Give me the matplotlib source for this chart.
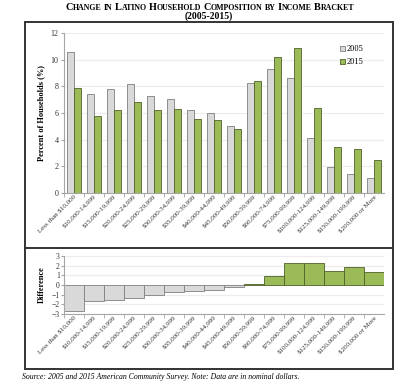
import numpy as np
import matplotlib
matplotlib.use('Agg')
import matplotlib.pyplot as plt
from matplotlib.patches import Rectangle
from matplotlib.lines import Line2D

plt.rcParams['font.family'] = ['Liberation Serif', 'DejaVu Serif']
plt.rcParams['text.parse_math'] = False

brackets = ['Less than $10,000', '$10,000-14,999', '$15,000-19,999', '$20,000-24,999',
            '$25,000-29,999', '$30,000-34,999', '$35,000-39,999', '$40,000-44,999',
            '$45,000-49,999', '$50,000-59,999', '$60,000-74,999', '$75,000-99,999',
            '$100,000-124,999', '$125,000-149,999', '$150,000-199,999', '$200,000 or More']
pct_2005 = [10.6, 7.45, 7.8, 8.15, 7.25, 7.05, 6.2, 6.0, 5.05, 8.25, 9.3, 8.6, 4.1, 1.95, 1.45, 1.1]
pct_2015 = [7.9, 5.78, 6.23, 6.8, 6.2, 6.33, 5.53, 5.48, 4.83, 8.4, 10.2, 10.9, 6.4, 3.43, 3.33, 2.48]

title = 'Change in Latino Household Composition by Income Bracket'

grey = '#d9d9d9'
grey_edge = '#7f7f7f'
green = '#9bbb59'
green_edge = '#4f6228'

x = np.arange(len(brackets))
diff = np.array(pct_2015) - np.array(pct_2005)

fig = plt.figure(figsize=(4.08, 3.86), dpi=100)
renderer = fig.canvas.get_renderer()

# outer frame and divider
fig.patches.append(Rectangle((25/408, 1-369/386), 368/408, 347/386, transform=fig.transFigure,
                             fill=False, lw=1.4, ec='#333333'))
fig.lines.append(Line2D([25/408, 393/408], [1-248/386, 1-248/386], transform=fig.transFigure,
                        lw=1.4, color='#333333'))


def small_caps_title(s, y, cx=210, big=7.4, small=5.7, gap=2.2):
    # fake small caps: one text per piece, laid out side by side
    pieces = []
    for word in s.split():
        if word[0].isupper():
            pieces.append((word[0], big, 0))
            pieces.append((word[1:].upper(), small, gap))
        else:
            pieces.append((word.upper(), small, gap))
    texts = []
    total = 0
    for txt, size, g in pieces:
        t = fig.text(0, y, txt, fontsize=size, fontweight='bold', ha='left', va='baseline')
        wpx = t.get_window_extent(renderer).width
        texts.append((t, wpx, g))
        total += wpx + g
    total -= pieces[-1][2]
    cur = cx - total / 2
    for t, wpx, g in texts:
        t.set_x(cur / 408)
        cur += wpx + g


small_caps_title(title, 1-10/386)
fig.text(209/408, 1-16.5/386, '(2005-2015)', ha='center', va='center', fontsize=7, fontweight='bold')
fig.text(22/408, 1-377/386,
         'Source: 2005 and 2015 American Community Survey. Note: Data are in nominal dollars.',
         ha='left', va='center', fontsize=5.6, style='italic')


def style_axis(ax):
    for s in ['top', 'right']:
        ax.spines[s].set_visible(False)
    for s in ['left', 'bottom']:
        ax.spines[s].set_color('#a6a6a6')
        ax.spines[s].set_linewidth(0.8)
    ax.tick_params(axis='y', length=2, color='#a6a6a6', labelsize=5.8, pad=2, labelcolor='#333333')
    ax.tick_params(axis='x', which='major', length=0, labelsize=5, pad=1, labelcolor='#333333')
    ax.tick_params(axis='x', which='minor', length=3, color='#a6a6a6', direction='out')
    ax.set_xticks(x - 0.5, minor=True)
    ax.set_xticks(x)
    ax.set_xticklabels(brackets, rotation=45, ha='right', va='top', rotation_mode='anchor')
    ax.set_xlim(-0.5, len(brackets) - 0.5)
    ax.yaxis.grid(True, color='#ececec', lw=0.8)
    ax.set_axisbelow(True)


# top panel
ax1 = fig.add_axes([64/408, 1-193/386, 320/408, 160/386])
w = 0.36
ax1.bar(x - w/2, pct_2005, w, color=grey, edgecolor=grey_edge, lw=0.6, label='2005')
ax1.bar(x + w/2, pct_2015, w, color=green, edgecolor=green_edge, lw=0.6, label='2015')
ax1.set_ylim(0, 12)
ax1.set_yticks(range(0, 13, 2))
style_axis(ax1)
ax1.set_ylabel('Percent of Households (%)', fontsize=6, fontweight='bold', labelpad=4)
leg = ax1.legend(loc='upper right', bbox_to_anchor=(0.96, 0.97), frameon=False, fontsize=6,
                 handlelength=0.6, handleheight=0.6, handletextpad=0.2, labelspacing=0.6)

# bottom panel
ax2 = fig.add_axes([64/408, 1-314/386, 320/408, 58/386])
ax2.bar(x, diff, 1.0, color=[grey if d < 0 else green for d in diff],
        edgecolor=[grey_edge if d < 0 else green_edge for d in diff], lw=0.6)
ax2.set_ylim(-3, 3)
ax2.set_yticks(range(-3, 4))
style_axis(ax2)
ax2.tick_params(axis='y', labelsize=5.5, pad=1)
ax2.set_ylabel('Difference', fontsize=6, fontweight='bold', labelpad=4)

fig.savefig('out.png', dpi=100, facecolor='white')
